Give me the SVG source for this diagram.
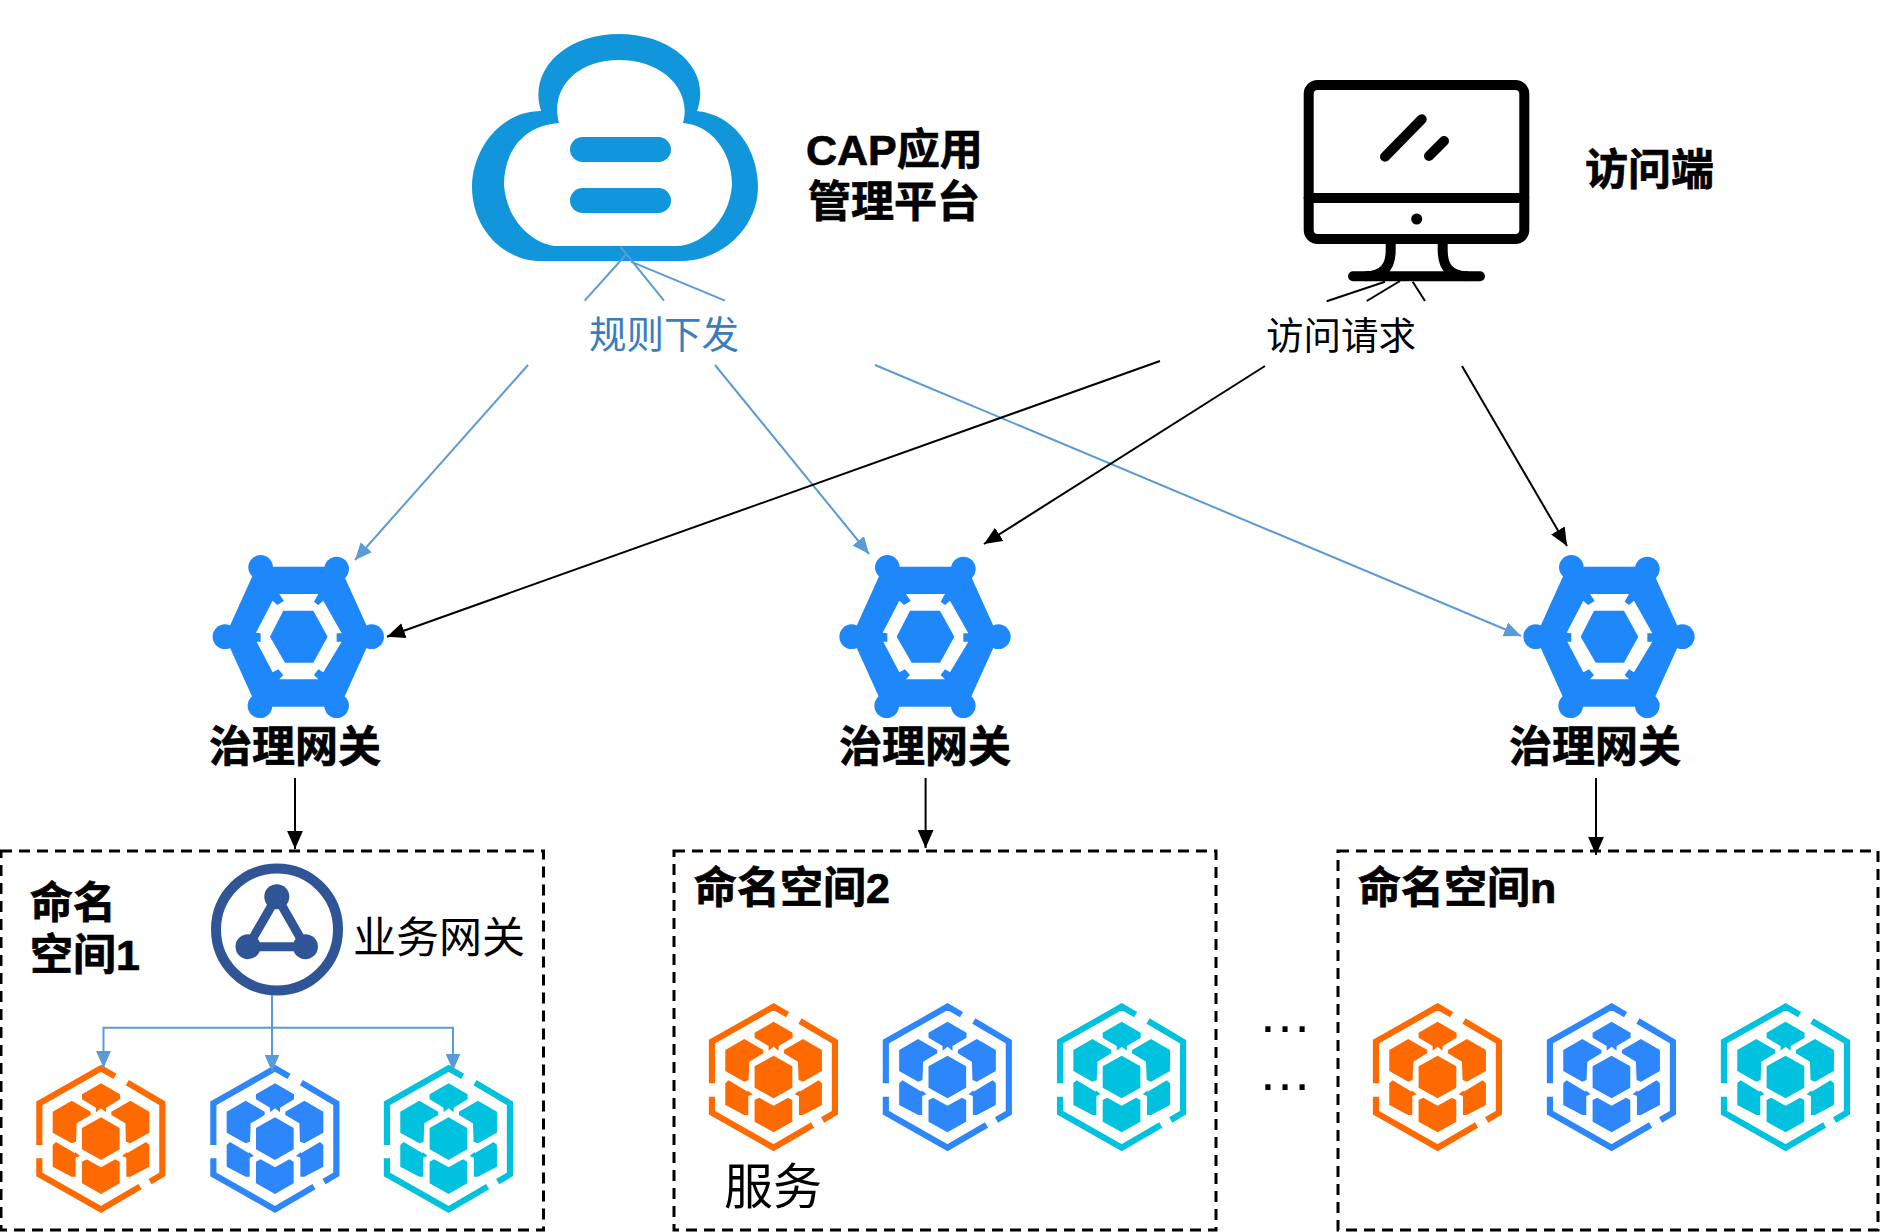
<svg xmlns="http://www.w3.org/2000/svg" xmlns:xlink="http://www.w3.org/1999/xlink" width="1882" height="1232" viewBox="0 0 1882 1232">
<style>
text{font-family:"Liberation Sans","Noto Sans CJK SC",sans-serif;fill:#000}
.b{font-size:43px;font-weight:700;stroke:#000;stroke-width:.7}
.r{font-size:43px;font-weight:400}
.blue{stroke:#5b9bd5;stroke-width:2;fill:none}
.black{stroke:#000;stroke-width:2;fill:none}
.ns{fill:none;stroke:#000;stroke-width:3;stroke-dasharray:11 7}
.mon{fill:none;stroke:#000;stroke-width:10;stroke-linecap:round}
</style>
<defs>
<marker id="ab" markerUnits="userSpaceOnUse" viewBox="0 0 16 14" refX="16" refY="7" markerWidth="17" markerHeight="15" orient="auto"><path d="M0,0L16,7L0,14Z" fill="#5b9bd5"/></marker>
<marker id="ak" markerUnits="userSpaceOnUse" viewBox="0 0 16 14" refX="16" refY="7" markerWidth="18" markerHeight="16" orient="auto"><path d="M0,0L16,7L0,14Z" fill="#000"/></marker>
<g id="svc" transform="scale(.33333) translate(-213,-236)">
<path fill="none" stroke="currentColor" stroke-width="18.5" d="M255,49L213,25L28,130V255M28,295V343L213,448L330,380M360,365L397,343V130L292,68" />
<path fill="currentColor" d="M213,70L270,103V118L228,143V157L213,145L198,157V143L156,118V103ZM213,172L269,204V268L213,300L156,268V204ZM125,122L182,155V165L140,190L138,245L125,250L68,218V155ZM301,122L358,155V218L301,250L288,245L286,190L244,165V155ZM78,246L135,280V276L150,288L137,293V350H125L68,320V255ZM348,246L358,255V320L301,350H289V293L276,288L291,276V280ZM170,298L213,322L256,298L269,305V370L213,402L156,370V305Z"/>
</g>
<g id="gw" transform="scale(.33333) translate(-325,-290)">
<path fill="#1e88fa" fill-rule="evenodd" d="M200,80H450L545,290L450,500H200L105,290ZM268,162L282,183L262,195L248,182L198,278L212,280V305H200L248,397L265,388L280,405L268,418H385L372,405L385,388L400,397L455,305H440V280H455L400,182L385,195L372,185L385,162Z"/>
<path fill="#1e88fa" d="M280,212H370L413,290L370,368H285L240,290Z"/>
<g fill="#1e88fa"><circle cx="212" cy="82" r="37"/><circle cx="440" cy="87" r="37"/><circle cx="105" cy="290" r="37"/><circle cx="545" cy="290" r="37"/><circle cx="210" cy="497" r="37"/><circle cx="440" cy="497" r="37"/></g>
</g>
</defs>
<rect width="1882" height="1232" fill="#fff"/>

<g id="cloud">
<path fill="#1296db" fill-rule="evenodd" d="M541,111C528,70 565,34 619,34C673,34 712,70 697,111C735,115 758,150 758,187C758,225 725,261 680,261H540C505,261 472,230 472,187C472,150 500,111 541,111ZM559,123C550,90 575,60 619,60C663,60 692,90 683,123C710,125 732,150 732,185C729,225 697,246 677,246H558C538,246 507,225 504,185C504,150 525,125 559,123Z"/>
<rect x="570" y="137" width="101" height="25" rx="12.5" fill="#1296db"/>
<rect x="570" y="188" width="101" height="25" rx="12.5" fill="#1296db"/>
<text class="b" x="806" y="165">CAP应用</text>
<text class="b" x="808" y="217">管理平台</text>
</g>

<g id="monitor">
<rect x="1308.7" y="85" width="215.6" height="154" rx="9" class="mon"/>
<path class="mon" d="M1308.7,198H1524.3M1385,156.7L1421.7,119.3M1429,156L1444,141M1353,276.3H1480"/>
<path class="mon" style="stroke-linecap:butt" d="M1390.7,244V250C1390.7,265 1385,276 1365,276.3M1442.7,244V250C1442.7,265 1448,276 1468,276.3"/>
<circle cx="1416.7" cy="219" r="5.5" fill="#000"/>
<text class="b" x="1585" y="185">访问端</text>
</g>

<g id="label-rules"><text x="589" y="348" style="font-size:37.5px;fill:#3a7dbf">规则下发</text></g>
<g id="label-access"><text x="1266" y="349" style="font-size:37.5px">访问请求</text></g>

<g id="gateway1"><use xlink:href="#gw" href="#gw" transform="translate(298.3,636.7)"/><text class="b" x="209" y="762">治理网关</text></g>
<g id="gateway2"><use xlink:href="#gw" href="#gw" transform="translate(925,636.7)"/><text class="b" x="839" y="762">治理网关</text></g>
<g id="gateway3"><use xlink:href="#gw" href="#gw" transform="translate(1609,636.7)"/><text class="b" x="1509" y="762">治理网关</text></g>

<g id="namespace1">
<rect x="1" y="851" width="542.5" height="379" class="ns"/>
<text class="b" x="30" y="918">命名</text>
<text class="b" x="30" y="970">空间1</text>
<g id="biz-gateway">
<circle cx="277" cy="929.5" r="61" fill="none" stroke="#2f5597" stroke-width="10"/>
<path d="M276.8,896.7L248,946.7H305.4Z" fill="none" stroke="#2f5597" stroke-width="9"/>
<g fill="#2f5597"><circle cx="276.8" cy="896.7" r="12.5"/><circle cx="248" cy="946.7" r="12.5"/><circle cx="305.4" cy="946.7" r="12.5"/></g>
<text class="r" x="353" y="953">业务网关</text>
</g>
<use xlink:href="#svc" href="#svc" transform="translate(101,1138.7)" color="#ff6a00"/>
<use xlink:href="#svc" href="#svc" transform="translate(275,1138.7)" color="#2e86fb"/>
<use xlink:href="#svc" href="#svc" transform="translate(448.6,1138.7)" color="#00c1de"/>
</g>

<g id="namespace2">
<rect x="674" y="851" width="542" height="379" class="ns"/>
<text class="b" x="694" y="903">命名空间2</text>
<use xlink:href="#svc" href="#svc" transform="translate(773.6,1077)" color="#ff6a00"/>
<use xlink:href="#svc" href="#svc" transform="translate(947.5,1077)" color="#2e86fb"/>
<use xlink:href="#svc" href="#svc" transform="translate(1121.7,1077)" color="#00c1de"/>
<text x="724" y="1204" style="font-size:49px">服务</text>
</g>

<g id="ellipsis">
<text x="1258" y="1032" style="font-size:54px">…</text>
<text x="1258" y="1090" style="font-size:54px">…</text>
</g>

<g id="namespacen">
<rect x="1338" y="851" width="540" height="379" class="ns"/>
<text class="b" x="1358" y="903">命名空间n</text>
<use xlink:href="#svc" href="#svc" transform="translate(1437.6,1077)" color="#ff6a00"/>
<use xlink:href="#svc" href="#svc" transform="translate(1611.6,1077)" color="#2e86fb"/>
<use xlink:href="#svc" href="#svc" transform="translate(1785.6,1077)" color="#00c1de"/>
</g>

<g id="connectors">
<path class="blue" d="M625.6,255L584.7,300.7"/>
<path class="blue" d="M528,365L355,560" marker-end="url(#ab)"/>
<path class="blue" d="M620.6,247L664,300.7"/>
<path class="blue" d="M715,365L869,554" marker-end="url(#ab)"/>
<path class="blue" d="M631,261.7L725,300.7"/>
<path class="blue" d="M875,365L1521,636" marker-end="url(#ab)"/>
<path class="black" d="M1385,281.7L1326.7,301.3"/>
<path class="black" d="M1160,361L387,636.7" marker-end="url(#ak)"/>
<path class="black" d="M1400,281L1366.7,301"/>
<path class="black" d="M1265,366L984,544" marker-end="url(#ak)"/>
<path class="black" d="M1412.7,281.7L1425,301"/>
<path class="black" d="M1462,366L1567,546" marker-end="url(#ak)"/>
<path class="black" d="M295,778V849" marker-end="url(#ak)"/>
<path class="black" d="M925.6,778V848" marker-end="url(#ak)"/>
<path class="black" d="M1596,778V855" marker-end="url(#ak)"/>
<path class="blue" d="M272,995V1071.7" marker-end="url(#ab)"/>
<path class="blue" d="M272,1027.7H103.5V1068" marker-end="url(#ab)"/>
<path class="blue" d="M272,1027.7H453V1070.7" marker-end="url(#ab)"/>
</g>
</svg>
